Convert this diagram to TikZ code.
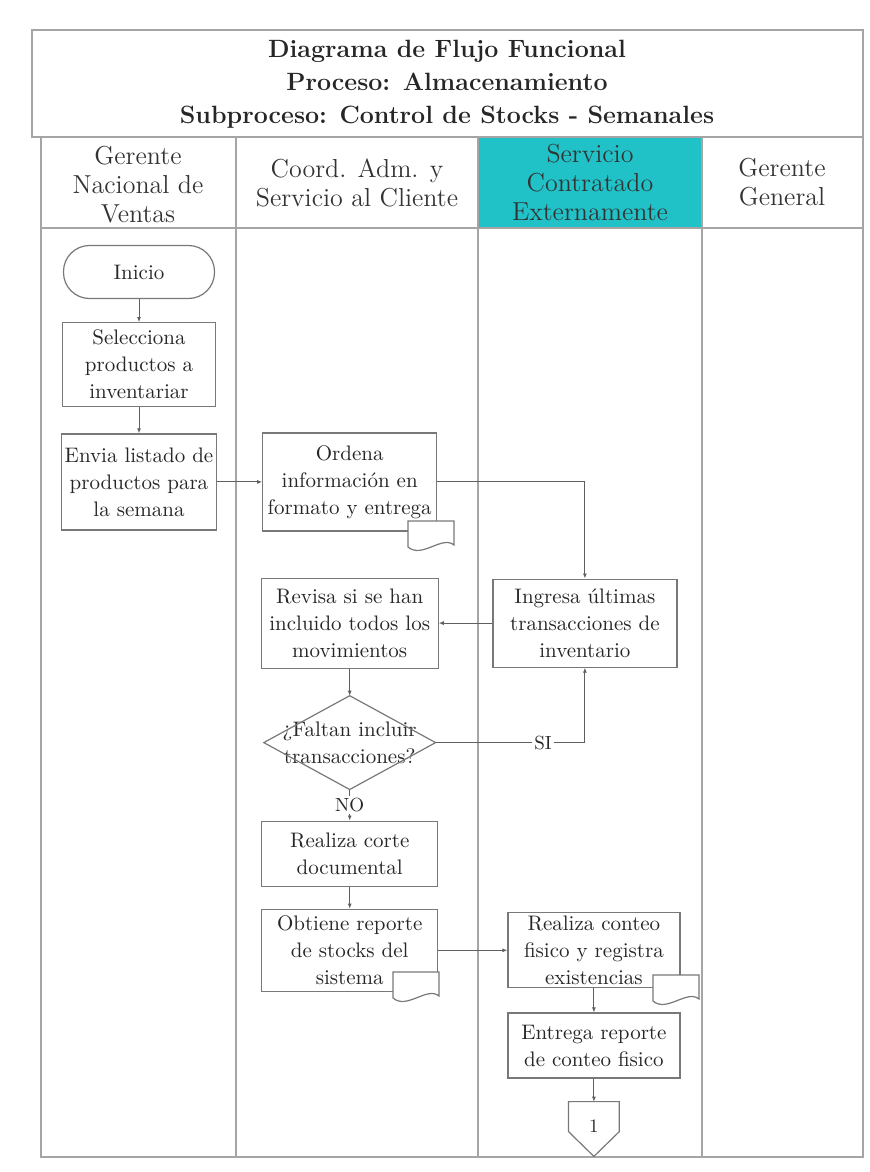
\documentclass[tikz,border=0pt]{standalone}
\usepackage{fontspec}
\usepackage{tikz}
\usetikzlibrary{positioning, arrows.meta}
\definecolor{lanecyan}{RGB}{32,194,200}
\definecolor{framegray}{RGB}{165,165,165}
\definecolor{boxgray}{RGB}{120,120,120}
\definecolor{linegray}{RGB}{95,95,95}
\tikzstyle{task}=[rectangle, draw=boxgray, line width=.6pt, align=center, inner sep=1pt, text=black!85, font=\fontsize{10.5}{13.5}\selectfont]
\tikzstyle{terminal}=[task, rounded corners=13pt]
\tikzstyle{flow}=[draw=linegray, line width=.45pt, -{Latex[length=2.5pt,width=2pt]}]
\tikzstyle{lane}=[draw=framegray, line width=.6pt]
\tikzstyle{head}=[align=center, text=black!80, font=\fontsize{13}{14.5}\selectfont]
\tikzstyle{tag}=[fill=white, inner sep=1pt, text=black!85, font=\fontsize{9.5}{11}\selectfont]
\tikzset{docicon/.pic={\draw[draw=boxgray, fill=white, line width=.6pt] (0pt,0pt) -- (23pt,0pt) -- (23pt,-12pt) .. controls (17pt,-7pt) and (7pt,-19pt) .. (0pt,-13pt) -- cycle;}}

\begin{document}
\begin{tikzpicture}[x=0.5pt, y=-0.5pt]
    \useasboundingbox (0,0) rectangle (870,1172);
    %swimlane frame with titles
    \fill[lanecyan] (478,137) rectangle (702,228);
    \draw[lane] (32,30) rectangle (863,137);
    \draw[lane] (41,137) rectangle (863,1157);
    \draw[lane] (41,228) -- (863,228);
    \foreach \x in {236,478,702}{
        \draw[lane] (\x,137) -- (\x,1157);
    }
    \node[align=center, text=black!85, font=\fontsize{12.5}{16.5}\selectfont\bfseries](title) at (447,84){Diagrama de Flujo Funcional\\Proceso: Almacenamiento\\Subproceso: Control de Stocks - Semanales};
    \node[head](h1) at (138,185){Gerente\\Nacional de\\Ventas};
    \node[head](h2) at (357,183){Coord. Adm. y\\Servicio al Cliente};
    \node[head](h3) at (590,182){Servicio\\Contratado\\Externamente};
    \node[head](h4) at (782,182){Gerente\\General};
    %flow steps
    \node[terminal, minimum width=75.5pt, minimum height=26.5pt](start) at (139,272){Inicio};
    \node[task, minimum width=76.5pt, minimum height=42pt, below=11.5pt of start](sel){Selecciona\\productos a\\inventariar};
    \node[task, minimum width=77.5pt, minimum height=48pt, below=13pt of sel](env){Envia listado de\\productos para\\la semana};
    \node[task, minimum width=87pt, minimum height=49pt, right=22.5pt of env](ord){Ordena\\información en\\formato y entrega};
    \node[task, minimum width=88.5pt, minimum height=45pt, below=23pt of ord](rev){Revisa si se han\\incluido todos los\\movimientos};
    \node[task, minimum width=92pt, minimum height=44pt, right=26.75pt of rev](ing){Ingresa últimas\\transacciones de\\inventario};
    \node[below=13.5pt of rev, minimum width=85.5pt, minimum height=46.5pt, inner sep=0, align=center, text=black!85, font=\fontsize{10.5}{13.5}\selectfont](dec){¿Faltan incluir\\transacciones?};
    \draw[draw=boxgray, line width=.6pt] (dec.north) -- (dec.east) -- (dec.south) -- (dec.west) -- cycle;
    \node[task, minimum width=88pt, minimum height=32.5pt, below=15.5pt of dec](corte){Realiza corte\\documental};
    \node[task, minimum width=88pt, minimum height=41pt, below=11pt of corte](obt){Obtiene reporte\\de stocks del\\sistema};
    \node[task, minimum width=86pt, minimum height=37.5pt, right=34.5pt of obt](cont){Realiza conteo\\fisico y registra\\existencias};
    \node[task, minimum width=86pt, minimum height=32.5pt, below=12pt of cont](ent){Entrega reporte\\de conteo fisico};
    \node[below=11.5pt of ent, minimum width=25pt, minimum height=27pt, inner sep=0, text=black!85, font=\fontsize{9.5}{11}\selectfont](c1){\raisebox{2.5pt}{1}};
    \draw[draw=boxgray, line width=.6pt] (c1.north west) -- (c1.north east) -- ([yshift=-15pt]c1.north east) -- (c1.south) -- ([yshift=-15pt]c1.north west) -- cycle;
    %documents
    \pic at (408,521) {docicon};
    \pic at (393,972) {docicon};
    \pic at (653,975) {docicon};
    %connectors
    \draw[flow] (start) to (sel);
    \draw[flow] (sel) to (env);
    \draw[flow] (env) to (ord);
    \draw[flow] (ord.east) -| (ing.north);
    \draw[flow] (ing) to (rev);
    \draw[flow] (rev) to (dec.north);
    \draw[flow] (dec.east) -| node[tag, pos=.36]{SI} (ing.south);
    \draw[flow] (dec.south) -- node[tag]{NO} (corte);
    \draw[flow] (corte) to (obt);
    \draw[flow] (obt) to (cont);
    \draw[flow] (cont) to (ent);
    \draw[flow] (ent) to (c1);
\end{tikzpicture}
\end{document}
